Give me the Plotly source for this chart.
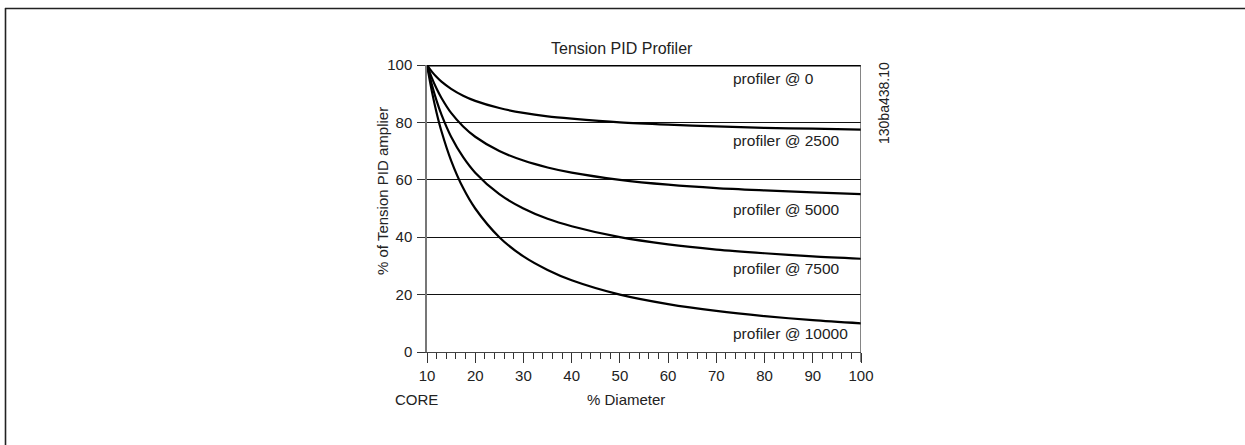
import plotly.graph_objects as go

# ---- data ----
diameter = [10, 11, 12, 13, 15, 17.5, 20, 25, 30, 35, 40, 50, 60, 70, 80, 90, 100]
profiler_0 = [100] * len(diameter)
profiler_2500 = [100, 97.7, 95.8, 94.2, 91.7, 89.3, 87.5, 85, 83.3, 82.1, 81.3, 80, 79.2, 78.6, 78.1, 77.8, 77.5]
profiler_5000 = [100, 95.5, 91.7, 88.5, 83.3, 78.6, 75, 70, 66.7, 64.3, 62.5, 60, 58.3, 57.1, 56.3, 55.6, 55]
profiler_7500 = [100, 93.2, 87.5, 82.7, 75, 67.9, 62.5, 55, 50, 46.4, 43.8, 40, 37.5, 35.7, 34.4, 33.3, 32.5]
profiler_10000 = [100, 90.9, 83.3, 76.9, 66.7, 57.1, 50, 40, 33.3, 28.6, 25, 20, 16.7, 14.3, 12.5, 11.1, 10]

series_labels = ["profiler @ 0", "profiler @ 2500", "profiler @ 5000", "profiler @ 7500", "profiler @ 10000"]
label_y = [95.4, 73.6, 49.7, 29.2, 6.5]
label_x = 73.1

x_ticks = [10, 20, 30, 40, 50, 60, 70, 80, 90, 100]
y_ticks = [0, 20, 40, 60, 80, 100]

FONT = "Liberation Sans, Arial, Helvetica, sans-serif"
TXT = "#222222"

# plot area in pixels: x 427..861, y 65..352
def px(xp):
    return (xp - 427) / 434

def py(yp):
    return (352 - yp) / 287

fig = go.Figure()
for vals, w in [(profiler_0, 3.2), (profiler_2500, 2.2), (profiler_5000, 2.2),
                (profiler_7500, 2.2), (profiler_10000, 2.2)]:
    fig.add_trace(go.Scatter(x=diameter, y=vals, mode="lines",
                             line=dict(color="black", width=w, shape="spline", smoothing=0.8),
                             showlegend=False, hoverinfo="skip"))

for txt, yv in zip(series_labels, label_y):
    fig.add_annotation(x=label_x, y=yv, xref="x", yref="y", text=txt, showarrow=False,
                       xanchor="left", yanchor="middle", font=dict(family=FONT, size=15.5, color=TXT))

def paper_text(x, y, text, size=15, angle=0):
    fig.add_annotation(x=px(x), y=py(y), xref="paper", yref="paper", text=text, showarrow=False,
                       xanchor="center", yanchor="middle", textangle=angle,
                       font=dict(family=FONT, size=size, color=TXT))

paper_text(622, 48, "Tension PID Profiler", size=16)
paper_text(382, 191, "% of Tension PID amplier", size=15, angle=-90)
paper_text(884, 103, "130ba438.10", size=14, angle=-90)
paper_text(416, 399, "CORE", size=15)
paper_text(626, 399, "% Diameter", size=15)

# right vertical border line of plot
fig.add_shape(type="line", xref="x", yref="paper", x0=100, x1=100, y0=py(362), y1=1,
              line=dict(color="#444444", width=1.3))
# outer frame (top and left)
fig.add_shape(type="line", xref="paper", yref="paper", x0=px(5), x1=px(1250), y0=py(8.5), y1=py(8.5),
              line=dict(color="#222222", width=1.6))
fig.add_shape(type="line", xref="paper", yref="paper", x0=px(5.5), x1=px(5.5), y0=py(8), y1=py(450),
              line=dict(color="#222222", width=1.6))

fig.update_layout(
    width=1245, height=445,
    margin=dict(l=427, r=384, t=65, b=93),
    paper_bgcolor="white", plot_bgcolor="white",
    font=dict(family=FONT, size=15, color=TXT),
)
fig.update_xaxes(range=[10, 100], tickvals=x_ticks, ticks="outside", ticklen=10, tickwidth=1,
                 tickcolor="#333333", showgrid=False, zeroline=False, showline=True,
                 linecolor="#444444", linewidth=1.3,
                 minor=dict(dtick=2, tick0=10, ticks="outside", ticklen=6, tickcolor="#333333", showgrid=False),
                 tickfont=dict(family=FONT, size=15, color=TXT))
fig.update_yaxes(range=[0, 100], tickvals=y_ticks, ticks="outside", ticklen=8, tickwidth=1,
                 tickcolor="#333333", showgrid=True, gridcolor="#111111", gridwidth=1,
                 zeroline=False, showline=True, linecolor="#777777", linewidth=1.5,
                 ticklabelstandoff=2,
                 tickfont=dict(family=FONT, size=15, color=TXT))

fig.write_html("out.html", config={"displayModeBar": False},
               post_script="document.body.style.margin='0';document.body.style.overflow='hidden';")
